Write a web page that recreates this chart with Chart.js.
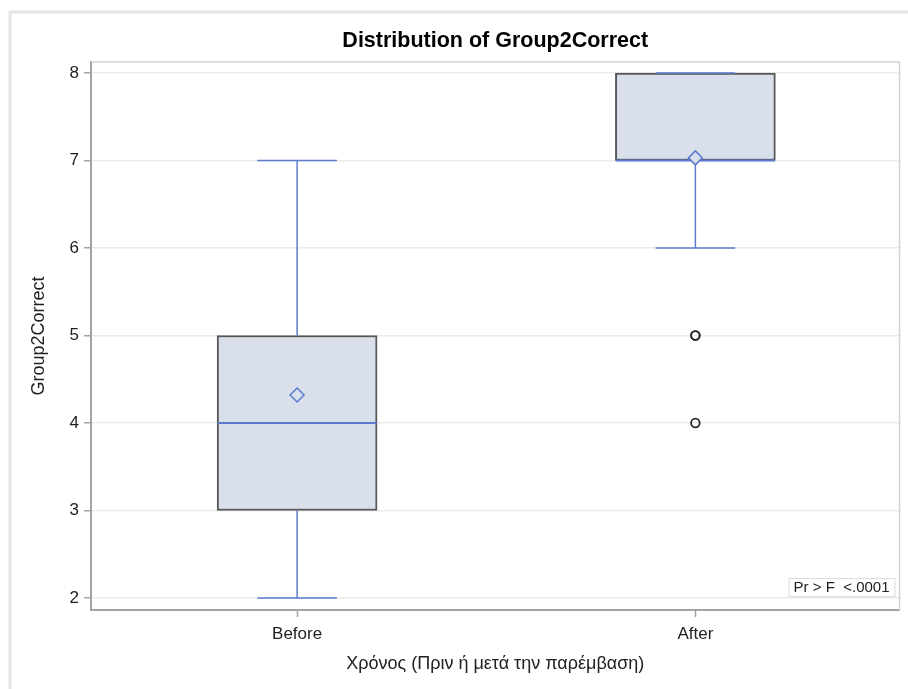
<!DOCTYPE html>
<html>
<head>
<meta charset="utf-8">
<script src="https://cdn.jsdelivr.net/npm/chart.js@4/dist/chart.umd.min.js"></script>
<style>
  body { margin: 0; background: #fff; }
  #wrap { width: 908px; height: 689px; position: relative; }
</style>
</head>
<body>
<div id="wrap"><canvas id="myChart"></canvas></div>
<script>
// data
var categories = ['Before', 'After'];
var q1 = [3, 7];
var medians = [4, 7];
var q3 = [5, 8];
var whiskerLow = [2, 6];
var whiskerHigh = [7, 8];
var means = [4.32, 7.03];
var outliers = [[], [5, 5, 4]];
var yTicks = [2, 3, 4, 5, 6, 7, 8];
var chartTitle = 'Distribution of Group2Correct';
var pValueLabel = 'Pr > F  <.0001';

var blue = '#5b7ccc';
var boxFill = '#dae0eb';
var boxEdge = '#585858';
var axisGray = '#a3a3a3';
var fontFamily = "'Liberation Sans', Arial, sans-serif";

var BOX_HALF = 0.2;   // half box width, in category units
var CAP_HALF = 0.1;   // half whisker cap width

var boxData = [], whiskerData = [], medianData = [], meanData = [], outlierData = [];
for (var i = 0; i < categories.length; i++) {
    boxData.push({ x: i, y: [q1[i], q3[i]] });

    whiskerData.push({ x: i, y: q3[i] }, { x: i, y: whiskerHigh[i] }, { x: i, y: null });
    whiskerData.push({ x: i, y: q1[i] }, { x: i, y: whiskerLow[i] }, { x: i, y: null });
    whiskerData.push({ x: i - CAP_HALF, y: whiskerHigh[i] }, { x: i + CAP_HALF, y: whiskerHigh[i] }, { x: i, y: null });
    whiskerData.push({ x: i - CAP_HALF, y: whiskerLow[i] }, { x: i + CAP_HALF, y: whiskerLow[i] }, { x: i, y: null });

    medianData.push({ x: i - BOX_HALF, y: medians[i] }, { x: i + BOX_HALF, y: medians[i] }, { x: i, y: null });

    meanData.push({ x: i, y: means[i] });

    for (var j = 0; j < outliers[i].length; j++) {
        outlierData.push({ x: i, y: outliers[i][j] });
    }
}

var framePlugin = {
    id: 'frames',
    beforeDraw: function (chart) {
        var ctx = chart.ctx;
        ctx.save();
        ctx.fillStyle = '#fff';
        ctx.fillRect(0, 0, chart.width, chart.height);
        // page border of the SAS output
        ctx.strokeStyle = '#e4e4e4';
        ctx.lineWidth = 3;
        ctx.beginPath();
        ctx.moveTo(10, chart.height);
        ctx.lineTo(10, 12);
        ctx.lineTo(chart.width, 12);
        ctx.stroke();
        ctx.restore();
    },
    beforeDatasetsDraw: function (chart) {
        var a = chart.chartArea, ctx = chart.ctx;
        ctx.save();
        ctx.strokeStyle = '#d2d2d2';
        ctx.lineWidth = 1.5;
        ctx.beginPath();
        ctx.moveTo(a.left, a.top);
        ctx.lineTo(a.right, a.top);
        ctx.lineTo(a.right, a.bottom);
        ctx.stroke();
        ctx.restore();
    },
    afterDatasetsDraw: function (chart) {
        var a = chart.chartArea, ctx = chart.ctx;
        ctx.save();
        // title, centred over the plot area
        ctx.fillStyle = '#000';
        ctx.font = 'bold 21.5px ' + fontFamily;
        ctx.textAlign = 'center';
        ctx.textBaseline = 'middle';
        ctx.fillText(chartTitle, (a.left + a.right) / 2, a.top - 21);

        // p-value inset
        ctx.font = '15px ' + fontFamily;
        var w = ctx.measureText(pValueLabel).width + 10;
        var h = 18;
        var x = a.right - 5 - w, y = a.bottom - 14 - h;
        ctx.fillStyle = '#fff';
        ctx.fillRect(x, y, w, h);
        ctx.strokeStyle = '#dcdcdc';
        ctx.lineWidth = 1;
        ctx.strokeRect(x + 0.5, y + 0.5, w, h);
        ctx.fillStyle = '#222';
        ctx.textAlign = 'left';
        ctx.fillText(pValueLabel, x + 5, y + h / 2 + 1);
        ctx.restore();
    }
};

var ctx = document.getElementById('myChart');
var myChart = new Chart(ctx, {
    type: 'bar',
    data: {
        datasets: [
            {
                type: 'line',
                label: 'Outliers',
                data: outlierData,
                showLine: false,
                pointStyle: 'circle',
                pointRadius: 4.3,
                pointBorderWidth: 1.8,
                pointBorderColor: '#2b2b2b',
                pointBackgroundColor: 'rgba(255,255,255,0)',
                order: 1
            },
            {
                type: 'line',
                label: 'Mean',
                data: meanData,
                showLine: false,
                pointStyle: 'rectRot',
                pointRadius: 7,
                pointBorderWidth: 1.5,
                pointBorderColor: blue,
                pointBackgroundColor: boxFill,
                order: 2
            },
            {
                type: 'line',
                label: 'Median',
                data: medianData,
                borderColor: blue,
                borderWidth: 2,
                pointRadius: 0,
                spanGaps: false,
                order: 3
            },
            {
                type: 'line',
                label: 'Whiskers',
                data: whiskerData,
                borderColor: blue,
                borderWidth: 1.5,
                pointRadius: 0,
                spanGaps: false,
                order: 4
            },
            {
                type: 'bar',
                label: 'Box',
                data: boxData,
                backgroundColor: boxFill,
                borderColor: boxEdge,
                borderWidth: 2,
                borderSkipped: false,
                barThickness: 160,
                order: 5
            }
        ]
    },
    options: {
        responsive: true,
        maintainAspectRatio: false,
        animation: false,
        events: [],
        layout: { padding: { left: 0, right: 2, top: 62, bottom: 0 } },
        plugins: {
            legend: { display: false },
            tooltip: { enabled: false },
            title: { display: false }
        },
        scales: {
            x: {
                type: 'linear',
                offset: false,
                min: -0.5175,
                max: 1.5125,
                afterBuildTicks: function (scale) {
                    scale.ticks = categories.map(function (c, k) { return { value: k }; });
                },
                afterFit: function (scale) { scale.height = 79; },
                ticks: {
                    color: '#222',
                    padding: 7,
                    font: { family: fontFamily, size: 17 },
                    callback: function (v) { return categories[v]; }
                },
                grid: {
                    offset: false,
                    drawOnChartArea: false,
                    tickLength: 7,
                    tickColor: axisGray,
                    tickWidth: 1.5
                },
                border: { color: axisGray, width: 2 },
                title: {
                    display: true,
                    text: 'Χρόνος (Πριν ή μετά την παρέμβαση)',
                    color: '#222',
                    font: { family: fontFamily, size: 18 },
                    padding: { top: 0, bottom: 14.2 }
                }
            },
            y: {
                min: 1.863,
                max: 8.126,
                afterBuildTicks: function (scale) {
                    scale.ticks = yTicks.map(function (v) { return { value: v }; });
                },
                afterFit: function (scale) { scale.width = 91; },
                ticks: {
                    color: '#222',
                    padding: 5,
                    font: { family: fontFamily, size: 17 }
                },
                grid: {
                    color: '#ebebeb',
                    lineWidth: 1.5,
                    tickLength: 7,
                    tickColor: axisGray,
                    tickWidth: 1.5
                },
                border: { color: axisGray, width: 2 },
                title: {
                    display: true,
                    text: 'Group2Correct',
                    color: '#222',
                    font: { family: fontFamily, size: 18 },
                    padding: { top: 28, bottom: 0 }
                }
            }
        }
    },
    plugins: [framePlugin]
});
</script>
</body>
</html>
